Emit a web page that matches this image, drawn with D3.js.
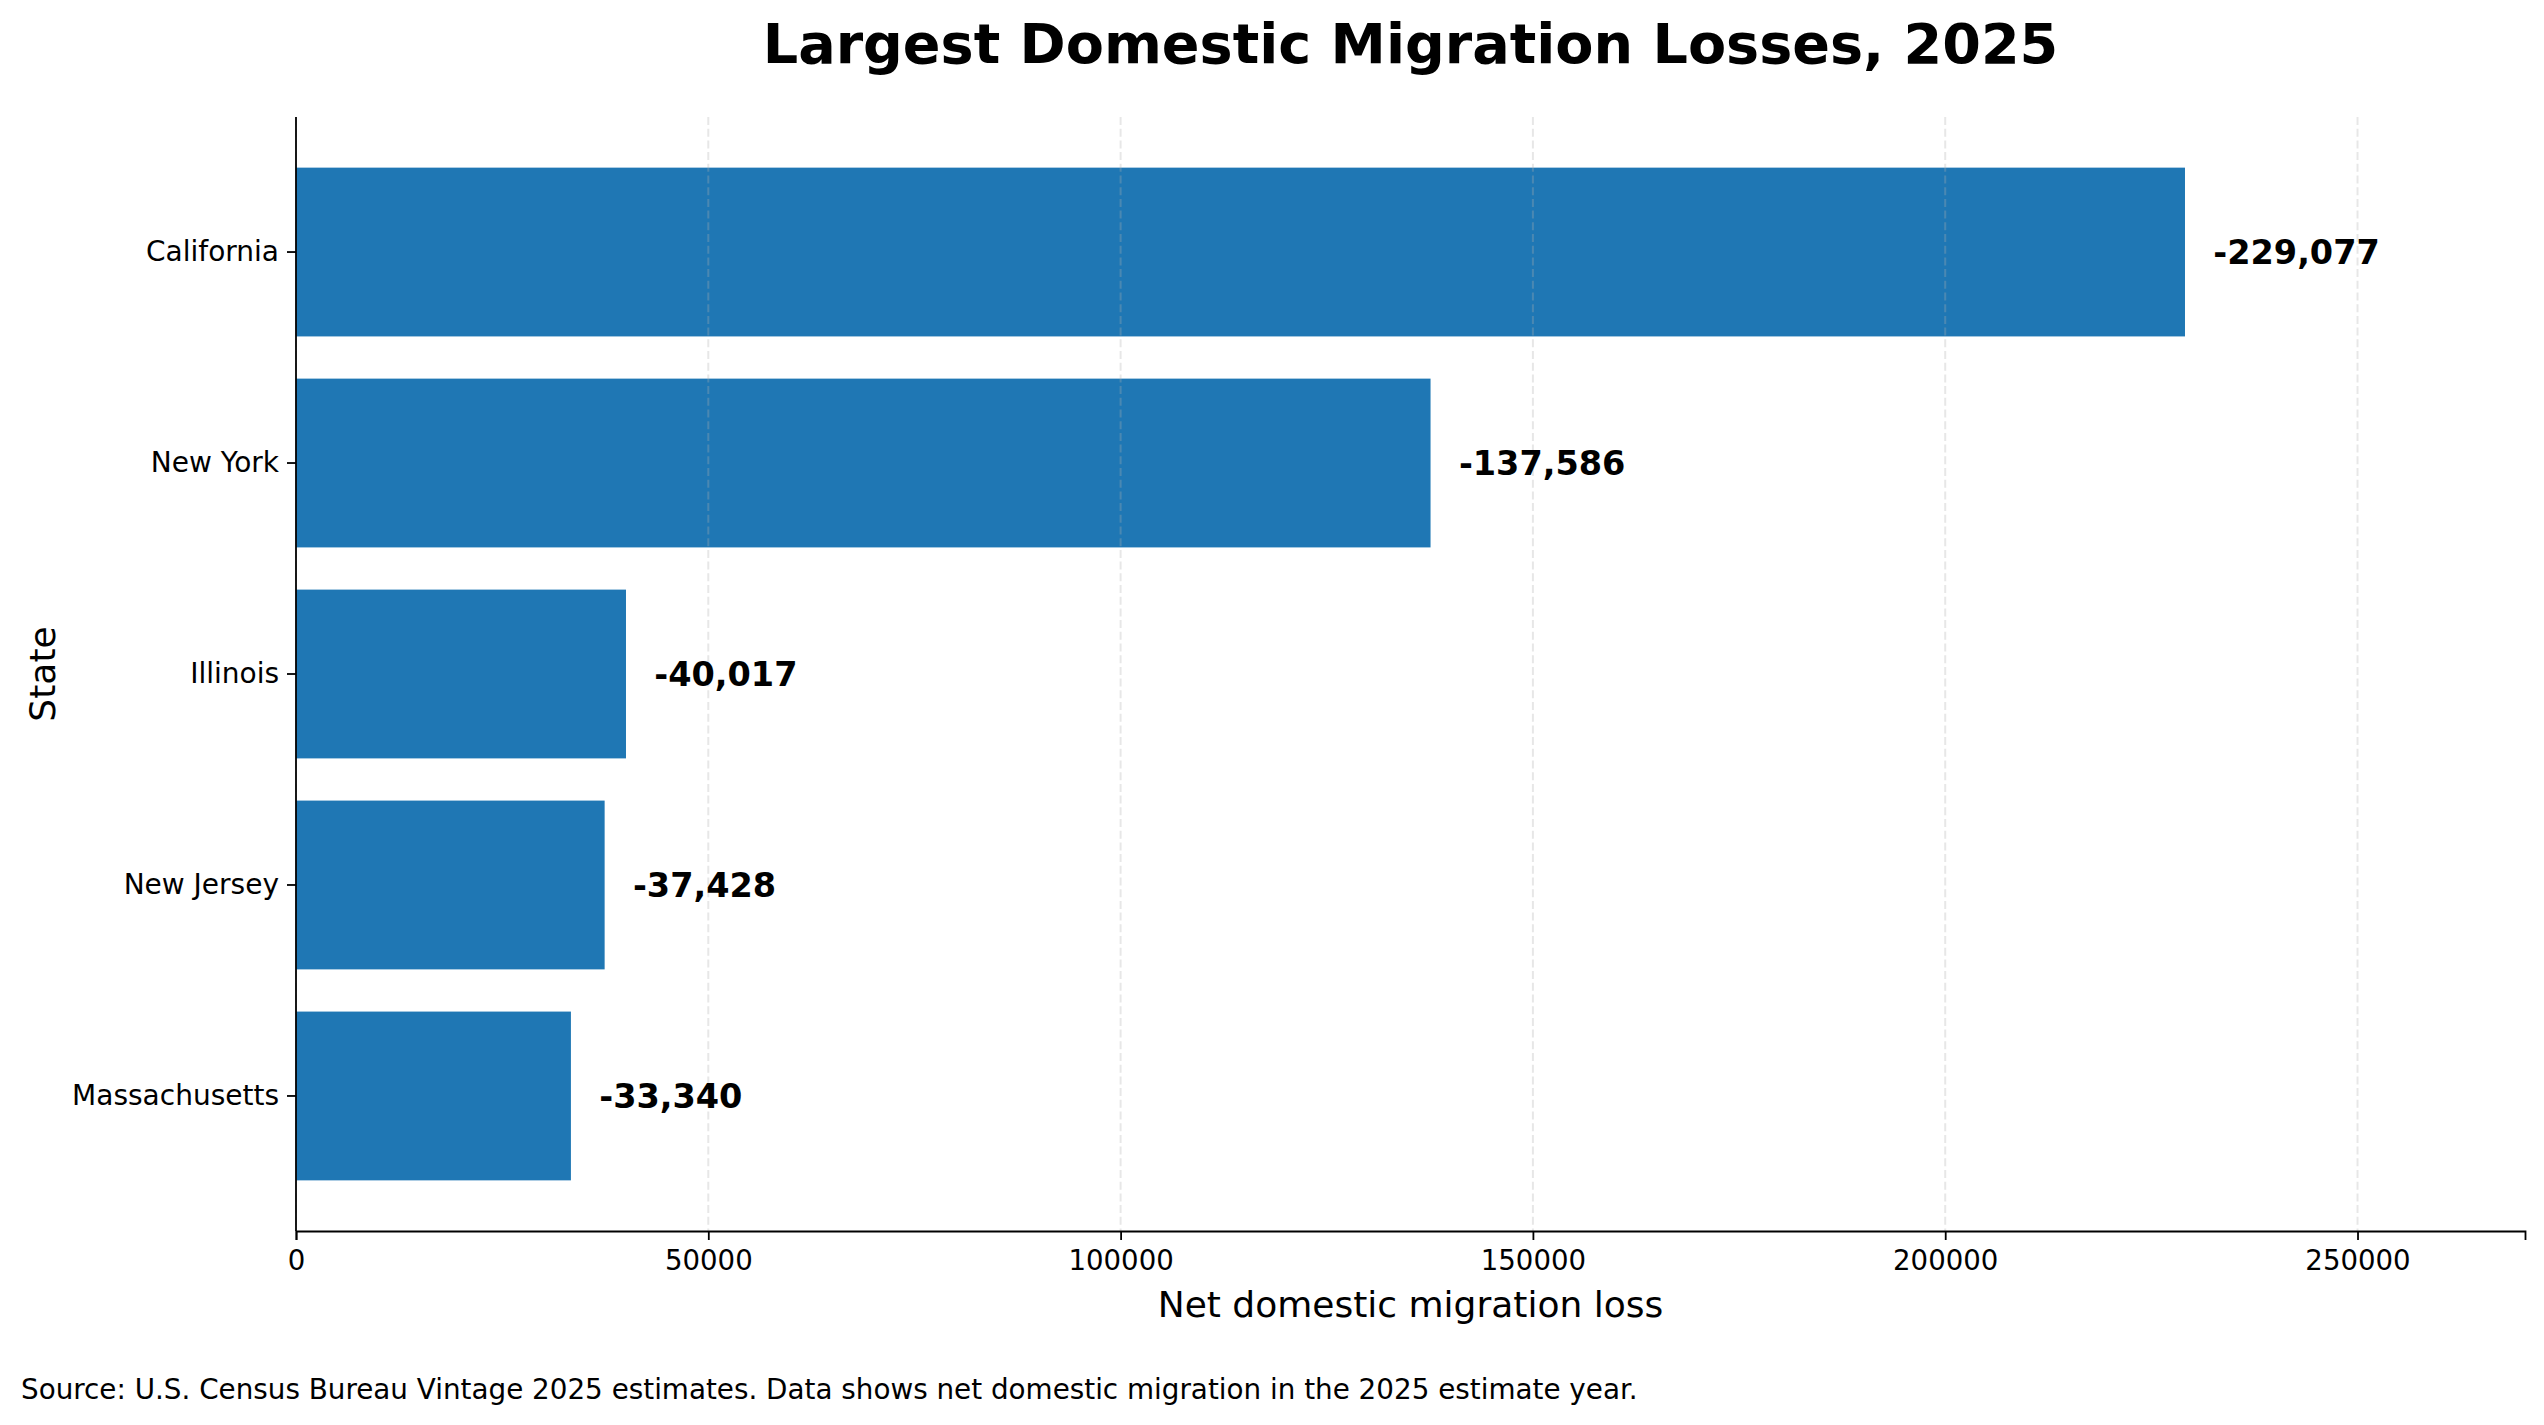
<!DOCTYPE html>
<html>
<head>
<meta charset="utf-8">
<script src="https://cdn.jsdelivr.net/npm/d3@7"></script>
<style>
body{margin:0;background:#fff;}
text{font-family:"DejaVu Sans",sans-serif;fill:#000;}
</style>
</head>
<body>
<svg id="graph"></svg>
<script>
var states = ["California","New York","Illinois","New Jersey","Massachusetts"]
var losses = [229077,137586,40017,37428,33340]
var xTicks = [0,50000,100000,150000,200000,250000]

var screen = {width:2544,height:1425}
var margins = {left:296,right:2525,top:117,bottom:1231}

var svg = d3.select("#graph")
    .attr("width",screen.width)
    .attr("height",screen.height)

var maxLoss = d3.max(losses)

var xScale = d3.scaleLinear()
    .domain([0,maxLoss*1.18])
    .range([margins.left,margins.right])

var yScale = d3.scaleBand()
    .domain(states)
    .range([margins.top,margins.bottom])
    .paddingInner(0.2)
    .paddingOuter(0.24)

var rows = states.map(function(s,i){
    return {state:s,loss:losses[i]}
})

// bars first, grid sits on top of them
svg.append("g")
    .selectAll("rect")
    .data(rows)
    .enter()
    .append("rect")
    .attr("x",xScale(0))
    .attr("y",function(d){return yScale(d.state)})
    .attr("width",function(d){return xScale(d.loss)-xScale(0)})
    .attr("height",yScale.bandwidth())
    .attr("fill","#1f77b4")

svg.append("g")
    .selectAll("line")
    .data(xTicks)
    .enter()
    .append("line")
    .attr("x1",function(t){return xScale(t)})
    .attr("x2",function(t){return xScale(t)})
    .attr("y1",margins.top)
    .attr("y2",margins.bottom)
    .attr("stroke","#b0b0b0")
    .attr("stroke-opacity",0.3)
    .attr("stroke-width",2)
    .attr("stroke-dasharray","8,3.7")

// x axis
var xAxis = d3.axisBottom(xScale)
    .tickValues(xTicks)
    .tickFormat(d3.format("d"))
    .tickSize(9)
    .tickPadding(10)

var gx = svg.append("g")
    .attr("transform","translate(0,"+margins.bottom+")")
    .call(xAxis)
gx.select(".domain").attr("stroke","#000").attr("stroke-width",1.8)
gx.selectAll(".tick line").attr("stroke","#000").attr("stroke-width",1.8)
gx.selectAll(".tick text")
    .attr("font-size",27.6)
    .attr("font-family","DejaVu Sans")
    .attr("fill","#000")

// y axis
var yAxis = d3.axisLeft(yScale)
    .tickSize(9)
    .tickPadding(8)

var gy = svg.append("g")
    .attr("transform","translate("+margins.left+",0)")
    .call(yAxis)
gy.select(".domain").attr("stroke","#000").attr("stroke-width",1.8)
    .attr("d","M0,"+margins.top+"V"+margins.bottom)
gy.selectAll(".tick line").attr("stroke","#000").attr("stroke-width",1.8)
gy.selectAll(".tick text")
    .attr("font-size",28)
    .attr("font-family","DejaVu Sans")
    .attr("fill","#000")

// value labels
svg.append("g")
    .selectAll("text")
    .data(rows)
    .enter()
    .append("text")
    .attr("x",function(d){return xScale(d.loss+maxLoss*0.015)})
    .attr("y",function(d){return yScale(d.state)+yScale.bandwidth()/2})
    .attr("dy","0.35em")
    .attr("font-size",33.5)
    .attr("font-weight","bold")
    .text(function(d){return "-"+d3.format(",")(d.loss)})

svg.append("text")
    .attr("x",(margins.left+margins.right)/2)
    .attr("y",63)
    .attr("text-anchor","middle")
    .attr("font-size",55.6)
    .attr("font-weight","bold")
    .text("Largest Domestic Migration Losses, 2025")

svg.append("text")
    .attr("x",(margins.left+margins.right)/2)
    .attr("y",1317)
    .attr("text-anchor","middle")
    .attr("font-size",36)
    .text("Net domestic migration loss")

svg.append("text")
    .attr("transform","translate(55,"+(margins.top+margins.bottom)/2+") rotate(-90)")
    .attr("text-anchor","middle")
    .attr("font-size",36)
    .text("State")

svg.append("text")
    .attr("x",21)
    .attr("y",1399)
    .attr("font-size",27.8)
    .text("Source: U.S. Census Bureau Vintage 2025 estimates. Data shows net domestic migration in the 2025 estimate year.")
</script>
</body>
</html>
